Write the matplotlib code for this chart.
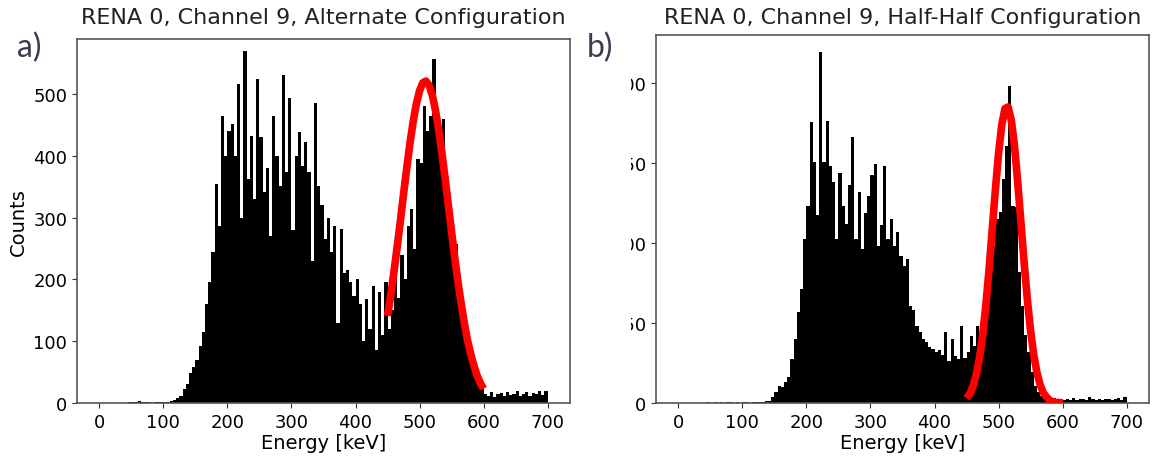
import numpy as np
import matplotlib
matplotlib.use("Agg")
import matplotlib.pyplot as plt
from matplotlib.patches import Rectangle

# ---------------- data ----------------
bin_width = 5
bin_edges = list(range(0, 705, 5))  # 0..700 keV

# Panel a) counts per 5 keV bin
counts_alt = [
    0, 0, 0, 0, 0, 0, 0, 0, 0,            # 0-40
    1, 2, 1, 3, 2, 1, 2, 0, 1, 1, 2, 1, 2, 3, 5, 8, 12,   # 45-125
    22, 30, 48, 58, 70, 92, 115, 160, 195, 245,          # 130-175
    354, 286, 465, 400, 440, 452, 400, 516, 300, 569,    # 180-225
    363, 432, 330, 525, 430, 341, 380, 270, 465, 400,    # 230-275
    351, 530, 373, 493, 280, 400, 438, 384, 422, 373,    # 280-325
    230, 486, 351, 320, 265, 300, 244, 287, 130, 282,    # 330-375
    211, 216, 195, 173, 200, 160, 100, 168, 120, 190,    # 380-425
    85, 179, 110, 195, 120, 150, 233, 170, 240, 200,     # 430-475
    287, 314, 250, 395, 389, 481, 440, 465, 556, 449,    # 480-525
    433, 460, 314, 287, 233, 257, 170, 136, 100, 82,     # 530-575
    60, 45, 30, 23, 15, 12, 18, 10, 14, 16,              # 580-625
    11, 18, 13, 15, 20, 12, 14, 17, 12, 16,              # 630-675
    14, 19, 13, 20,                                      # 680-695
]

# Panel b) counts per 5 keV bin
counts_half = [
    0, 0, 0, 0, 0, 0, 0, 0, 0,            # 0-40
    2, 0, 2, 0, 2, 0, 2, 2, 0, 2, 0, 2, 2, 0, 2, 2, 2,   # 45-125
    2, 4, 4, 12, 20, 32, 30, 39, 48, 82,                 # 130-175
    120, 170, 214, 307, 370, 526, 451, 352, 659, 451,    # 180-225
    529, 445, 414, 307, 432, 370, 336, 408, 498, 307,    # 230-275
    395, 288, 357, 389, 427, 448, 295, 333, 445, 307,    # 280-325
    345, 295, 320, 276, 257, 270, 182, 174, 145, 133,    # 330-375
    120, 114, 105, 101, 95, 99, 90, 133, 78, 120,        # 380-425
    89, 82, 145, 84, 96, 125, 107, 145, 120, 170,        # 430-475
    170, 232, 295, 345, 358, 420, 482, 595, 370, 367,    # 480-525
    245, 182, 127, 95, 58, 32, 20, 14, 9, 7,             # 530-575
    6, 10, 5, 8, 5, 7, 6, 9, 5, 8,                       # 580-625
    7, 6, 11, 7, 6, 8, 5, 7, 8, 5,                       # 630-675
    7, 9, 6, 12,                                         # 680-695
]

# Gaussian fit curves (red)
fit_energy = list(range(450, 605, 5))
fit_alt = [141, 174, 212, 252, 294, 338, 380, 420, 455, 484, 505, 518, 521,
           514, 498, 473, 441, 404, 363, 320, 277, 235, 196, 161, 129, 101,
           79, 60, 44, 32, 23]
fit_half = [9, 17, 31, 52, 83, 125, 181, 248, 323, 399, 468, 521, 552, 555,
            530, 481, 413, 338, 263, 194, 136, 90, 57, 34, 19, 11, 5, 2, 1,
            1, 0]

titles = ["RENA 0, Channel 9, Alternate Configuration",
          "RENA 0, Channel 9, Half-Half Configuration"]
panel_tags = ["a)", "b)"]
xticks = [0, 100, 200, 300, 400, 500, 600, 700]
yticks_alt = [0, 100, 200, 300, 400, 500]
yticks_half = [0, 150, 300, 450, 600]

# ---------------- figure ----------------
W, H = 1157, 464
fig = plt.figure(figsize=(W / 100, H / 100), dpi=100)


def px_axes(left, right, top, bottom):
    return [left / W, 1 - bottom / H, (right - left) / W, (bottom - top) / H]


ax1 = fig.add_axes(px_axes(77, 570, 40, 404))
ax2 = fig.add_axes(px_axes(656, 1149, 36, 404))

centers = [e + bin_width / 2 for e in bin_edges[:-1]]

for ax, counts, fit, yt, ytop, title in [
    (ax1, counts_alt, fit_alt, yticks_alt, 589, titles[0]),
    (ax2, counts_half, fit_half, yticks_half, 690, titles[1]),
]:
    ax.hist(centers, bins=bin_edges, weights=counts, color="black",
            edgecolor="none", linewidth=0)
    ax.plot(fit_energy, fit, color="red", lw=5.5, solid_capstyle="butt",
            zorder=3)
    ax.set_xlim(-35, 735)
    ax.set_ylim(0, ytop)
    ax.set_xticks(xticks)
    ax.set_yticks(yt)
    ax.tick_params(labelsize=13, color="#333333", length=3.5)
    for s in ax.spines.values():
        s.set_color("#555555")
        s.set_linewidth(1.2)
    ax.set_xlabel("Energy [keV]", fontsize=14, labelpad=2)
    bb = ax.get_position()
    fig.text((bb.x0 + bb.x1) / 2, 1 - 18 / H, title, ha="center",
             va="center", fontsize=16, color="#222222")

ax1.set_ylabel("Counts", fontsize=14, labelpad=4)

# right panel's tick labels are cut off at the left in the original
mask = Rectangle((575 / W, (H - 420) / H), (631 - 575) / W, 350 / H,
                 transform=fig.transFigure, facecolor="white",
                 edgecolor="none", zorder=5)
fig.add_artist(mask)

fig.text(17 / W, 1 - 48 / H, panel_tags[0], fontsize=23, color="#3c3c50",
         family="Lato", va="center", ha="left", zorder=6)
fig.text(587 / W, 1 - 48 / H, panel_tags[1], fontsize=23, color="#3c3c50",
         family="Lato", va="center", ha="left", zorder=6)

fig.savefig("out.png", dpi=100)
